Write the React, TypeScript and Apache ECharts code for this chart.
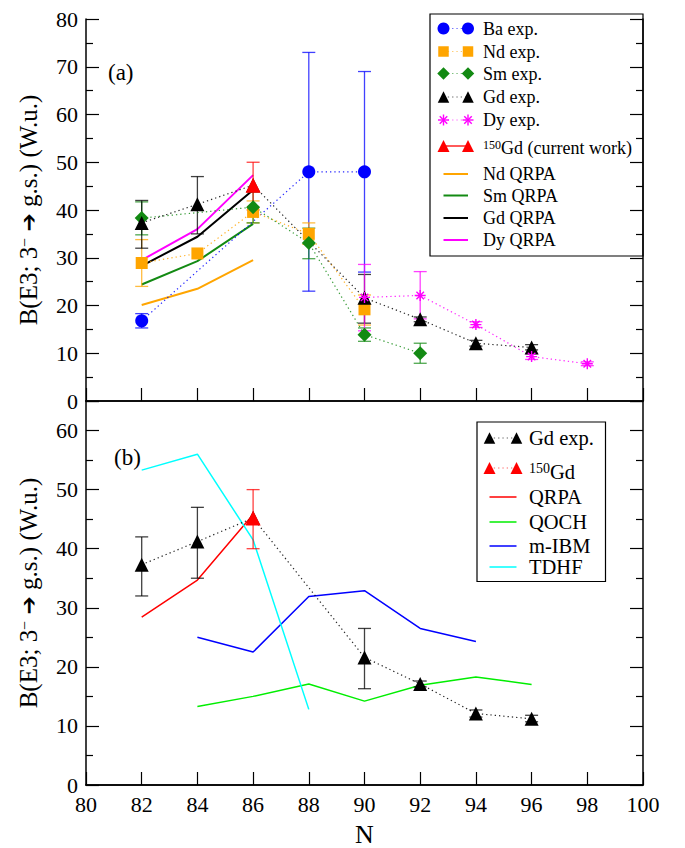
import React, { useEffect, useRef } from 'react';
import * as echarts from 'echarts';

const FONT = '"Liberation Serif", "Times New Roman", Times, serif';

// ---------- Panel (a) data ----------
const baExp = [[82, 16.8], [88, 48], [90, 48]];
const baErr = [[82, 15.3, 18.3], [88, 23, 73], [90, 27, 69]];
const ndExp = [[82, 28.9], [84, 30.9], [86, 39.6], [88, 35], [90, 19.2]];
const ndErr = [[82, 24, 33.8], [86, 37.3, 41.9], [88, 32.8, 37.3], [90, 15.9, 22.2]];
const smExp = [[82, 38.3], [86, 40.6], [88, 33.1], [90, 13.9], [92, 10]];
const smErr = [[82, 34.8, 41.7], [86, 37.3, 43.8], [88, 29.8, 36.2], [90, 12.5, 15.3], [92, 7.9, 12.1]];
const gdExp = [[82, 37.3], [84, 41.2], [86, 45.2], [90, 21.6], [92, 17.1], [94, 12.1], [96, 11.2]];
const gdErr = [[82, 32, 42], [84, 35, 47], [90, 16.3, 26.5], [92, 16.6, 17.6], [94, 11.5, 12.7], [96, 10.7, 11.8]];
const dyExp = [[90, 21.7], [92, 22.1], [94, 16], [96, 9.3], [98, 7.8]];
const dyErr = [[90, 14.7, 28.6], [92, 17.2, 27.1], [94, 15.4, 16.6], [96, 8.7, 9.9], [98, 7.4, 8.2]];
const gd150 = [[86, 45.2]];
const gd150Err = [[86, 40, 50]];
const ndQrpa = [[82, 20.1], [84, 23.5], [86, 29.5]];
const smQrpa = [[82, 24.4], [84, 29.3], [86, 37.1]];
const gdQrpa = [[82, 28.3], [84, 34.4], [86, 44.2]];
const dyQrpa = [[82, 29.5], [84, 36], [86, 47.3]];

// ---------- Panel (b) data ----------
const qrpaB = [[82, 28.4], [84, 34.7], [86, 45.8]];
const qoch = [[84, 13.3], [86, 15], [88, 17.1], [90, 14.2], [92, 16.9], [94, 18.3], [96, 17]];
const mIbm = [[84, 25], [86, 22.5], [88, 31.9], [90, 32.9], [92, 26.5], [94, 24.3]];
const tdhf = [[82, 53.3], [84, 56], [86, 41.5], [88, 12.8]];

const legendA = ['Ba exp.', 'Nd exp.', 'Sm exp.', 'Gd exp.', 'Dy exp.', '150Gd (current work)', 'Nd QRPA', 'Sm QRPA', 'Gd QRPA', 'Dy QRPA'];
const legendB = ['Gd exp.', '150Gd', 'QRPA', 'QOCH', 'm-IBM', 'TDHF'];

const BLUE = '#0000ff';
const ORANGE = '#ffa500';
const GREEN = '#138a13';
const BLACK = '#000000';
const MAGENTA = '#ff00ff';
const RED = '#ff0000';
const LIME = '#00ee00';
const CYAN = '#00ffff';

const STAR = 'path://M5,0L5,10M0,5L10,5M1.6,1.6L8.4,8.4M1.6,8.4L8.4,1.6';
const DOT: number[] = [1.3, 3];

function expSeries(name: string, data: number[][], color: string, symbol: string, size: number, ai: number, extra: any = {}) {
  return {
    type: 'line', name, data, xAxisIndex: ai * 2, yAxisIndex: ai * 2,
    symbol, symbolSize: size,
    lineStyle: { color, width: 1.2, type: DOT, opacity: 0.85 },
    itemStyle: { color },
    z: 5,
    ...extra,
  };
}

function lineSeries(name: string, data: number[][], color: string, width: number, ai: number) {
  return {
    type: 'line', name, data, xAxisIndex: ai * 2, yAxisIndex: ai * 2,
    symbol: 'none', lineStyle: { color, width }, z: 3,
  };
}

function errSeries(data: number[][], color: string, ai: number) {
  return {
    type: 'custom', data, xAxisIndex: ai * 2, yAxisIndex: ai * 2, z: 4,
    encode: { x: 0, y: [1, 2] },
    renderItem: (params: any, api: any) => {
      const x = api.value(0);
      const lo = api.coord([x, api.value(1)]);
      const hi = api.coord([x, api.value(2)]);
      const w = 6.5;
      const style = { stroke: color, lineWidth: 1.3, opacity: 0.75 };
      return {
        type: 'group',
        children: [
          { type: 'line', shape: { x1: lo[0], y1: lo[1], x2: hi[0], y2: hi[1] }, style },
          { type: 'line', shape: { x1: lo[0] - w, y1: lo[1], x2: lo[0] + w, y2: lo[1] }, style },
          { type: 'line', shape: { x1: hi[0] - w, y1: hi[1], x2: hi[0] + w, y2: hi[1] }, style },
        ],
      };
    },
  };
}

function marker(kind: string, cx: number, cy: number, s: number, color: string): any {
  const style = { fill: color };
  if (kind === 'circle') return { type: 'circle', shape: { cx, cy, r: s / 2 }, style };
  if (kind === 'rect') return { type: 'rect', shape: { x: cx - s / 2, y: cy - s / 2, width: s, height: s }, style };
  if (kind === 'diamond') return { type: 'polygon', shape: { points: [[cx, cy - s / 2], [cx + s / 2, cy], [cx, cy + s / 2], [cx - s / 2, cy]] }, style };
  if (kind === 'triangle') return { type: 'polygon', shape: { points: [[cx, cy - s / 2], [cx + s / 2, cy + s / 2], [cx - s / 2, cy + s / 2]] }, style };
  const h = s / 2, d = s * 0.34;
  const ls = { stroke: color, lineWidth: 1.4 };
  return {
    type: 'group', children: [
      { type: 'line', shape: { x1: cx, y1: cy - h, x2: cx, y2: cy + h }, style: ls },
      { type: 'line', shape: { x1: cx - h, y1: cy, x2: cx + h, y2: cy }, style: ls },
      { type: 'line', shape: { x1: cx - d, y1: cy - d, x2: cx + d, y2: cy + d }, style: ls },
      { type: 'line', shape: { x1: cx - d, y1: cy + d, x2: cx + d, y2: cy - d }, style: ls },
    ],
  };
}

function legendRow(x1: number, x2: number, y: number, ty: number, tx: number, text: string, fs: number,
  color: string, mk: string | null, ms: number, lineType: 'dot' | 'solid', lw: number): any[] {
  const out: any[] = [];
  out.push({
    type: 'line', shape: { x1, y1: y, x2, y2: y },
    style: { stroke: color, lineWidth: lw, lineDash: lineType === 'dot' ? DOT : null, opacity: lineType === 'dot' ? 0.6 : 1 },
  });
  if (mk) {
    out.push(marker(mk, x1, y, ms, color));
    out.push(marker(mk, x2, y, ms, color));
  }
  const rich = text.startsWith('150');
  out.push({
    type: 'text', x: tx, y: ty,
    style: {
      text: rich ? '{s|150}' + text.slice(3) : text,
      fontFamily: FONT, fontSize: fs, fill: '#000', align: 'left', verticalAlign: 'middle',
      rich: rich ? { s: { fontFamily: FONT, fontSize: Math.round(fs * 0.68), verticalAlign: 'top', fill: '#000' } } : undefined,
    },
  });
  return out;
}

const axisLine = { show: true, lineStyle: { color: '#000', width: 1.5 } };
const yName = 'B(E3; 3{s|−} {a|➔} g.s.) (W.u.)';
const yNameStyle = {
  fontFamily: FONT, fontSize: 25, color: '#000',
  rich: {
    s: { fontFamily: FONT, fontSize: 16, verticalAlign: 'top', color: '#000' },
    a: { fontFamily: 'DejaVu Sans', fontSize: 22, color: '#000' },
  },
};

export default function App() {
  const ref = useRef<HTMLDivElement>(null);
  useEffect(() => {
    if (!ref.current) return;
    const chart = echarts.init(ref.current, null, { renderer: 'svg' });

    const xBase = (gi: number, pos: string, labels: boolean, ticks: boolean, extra: any = {}) => ({
      type: 'value', gridIndex: gi, position: pos, min: 80, max: 100, interval: 2,
      axisLine, splitLine: { show: false },
      axisTick: { show: ticks, inside: true, length: 13, lineStyle: { color: '#000', width: 1.2 } },
      axisLabel: { show: labels, fontFamily: FONT, fontSize: 22, color: '#000', margin: 8 },
      ...extra,
    });
    const yBase = (gi: number, pos: string, max: number, labels: boolean, extra: any = {}) => ({
      type: 'value', gridIndex: gi, position: pos, min: 0, max, interval: 10,
      axisLine, splitLine: { show: false },
      axisTick: { show: true, inside: true, length: 13, lineStyle: { color: '#000', width: 1.2 } },
      minorTick: { show: true, splitNumber: 2, length: 7, lineStyle: { color: '#000', width: 1.2 } },
      axisLabel: { show: labels, fontFamily: FONT, fontSize: 22, color: '#000', margin: 8, showMaxLabel: max === 80 },
      ...extra,
    });

    // all graphic coordinates below are page coordinates; the group shifts them by the body margin
    const page: any[] = [];
    page.push({ type: 'text', x: 108, y: 72, style: { text: '(a)', fontFamily: FONT, fontSize: 23, fill: '#000', verticalAlign: 'middle' } });
    page.push({ type: 'text', x: 114, y: 457, style: { text: '(b)', fontFamily: FONT, fontSize: 23, fill: '#000', verticalAlign: 'middle' } });

    // legend (a)
    page.push({ type: 'rect', shape: { x: 430, y: 14, width: 213, height: 242 }, style: { fill: '#fff', stroke: '#000', lineWidth: 1.2 } });
    const aRows: [string, string | null, number, 'dot' | 'solid', number, number][] = [
      [BLUE, 'circle', 12, 'dot', 1.2, 28.5],
      [ORANGE, 'rect', 10.5, 'dot', 1.2, 51.5],
      [GREEN, 'diamond', 12.5, 'dot', 1.2, 73.5],
      [BLACK, 'triangle', 11.5, 'dot', 1.2, 97],
      [MAGENTA, 'star', 11, 'dot', 1.2, 120],
      [RED, 'triangle', 12, 'solid', 1.3, 146],
      [ORANGE, null, 0, 'solid', 2, 174],
      [GREEN, null, 0, 'solid', 2, 195.5],
      [BLACK, null, 0, 'solid', 2, 218],
      [MAGENTA, null, 0, 'solid', 2, 240],
    ];
    aRows.forEach((r, i) => {
      page.push(...legendRow(443.5, 468, r[5], i === 5 ? 148 : r[5], 483, legendA[i], 18, r[0], r[1], r[2], r[3], r[4]));
    });

    // legend (b)
    page.push({ type: 'rect', shape: { x: 477, y: 422, width: 128.5, height: 159.5 }, style: { fill: '#fff', stroke: '#000', lineWidth: 1.2 } });
    const bRows: [string, string | null, number, 'dot' | 'solid', number, number][] = [
      [BLACK, 'triangle', 11.5, 'dot', 1.2, 438],
      [RED, 'triangle', 12, 'dot', 1.2, 468],
      [RED, null, 0, 'solid', 1.5, 497],
      [LIME, null, 0, 'solid', 1.5, 522],
      [BLUE, null, 0, 'solid', 1.5, 546],
      [CYAN, null, 0, 'solid', 1.5, 567],
    ];
    bRows.forEach((r, i) => {
      page.push(...legendRow(489.5, 516.5, r[5], i === 1 ? 472 : r[5], 529, legendB[i], 20.5, r[0], r[1], r[2], r[3], r[4]));
    });

    const option: any = {
      animation: false,
      backgroundColor: '#fff',
      grid: [
        { left: 77, top: 6, width: 558, height: 387 },
        { left: 77, top: 393, width: 558, height: 386 },
      ],
      xAxis: [
        xBase(0, 'bottom', false, true),
        xBase(0, 'top', false, false),
        xBase(1, 'bottom', true, true, {
          name: 'N', nameLocation: 'middle', nameGap: 36,
          nameTextStyle: { fontFamily: FONT, fontSize: 26, color: '#000' },
        }),
        xBase(1, 'top', false, false),
      ],
      yAxis: [
        yBase(0, 'left', 80, true, { name: yName, nameLocation: 'middle', nameGap: 45, nameTextStyle: yNameStyle }),
        yBase(0, 'right', 80, false),
        yBase(1, 'left', 65, true, { name: yName, nameLocation: 'middle', nameGap: 45, nameTextStyle: yNameStyle }),
        yBase(1, 'right', 65, false),
      ],
      series: [
        lineSeries('Nd QRPA', ndQrpa, ORANGE, 2, 0),
        lineSeries('Sm QRPA', smQrpa, GREEN, 2, 0),
        lineSeries('Gd QRPA', gdQrpa, BLACK, 2, 0),
        lineSeries('Dy QRPA', dyQrpa, MAGENTA, 2, 0),
        errSeries(baErr, BLUE, 0),
        errSeries(ndErr, ORANGE, 0),
        errSeries(smErr, GREEN, 0),
        errSeries(gdErr, BLACK, 0),
        errSeries(dyErr, MAGENTA, 0),
        errSeries(gd150Err, RED, 0),
        expSeries('Ba exp.', baExp, BLUE, 'circle', 13, 0),
        expSeries('Nd exp.', ndExp, ORANGE, 'rect', 12, 0),
        expSeries('Sm exp.', smExp, GREEN, 'diamond', 14, 0),
        expSeries('Gd exp.', gdExp, BLACK, 'triangle', 14, 0),
        expSeries('Dy exp.', dyExp, MAGENTA, STAR, 11, 0, {
          itemStyle: { color: MAGENTA, borderColor: MAGENTA, borderWidth: 1.4 },
        }),
        expSeries('150Gd (current work)', gd150, RED, 'triangle', 15, 0, { z: 6 }),
        lineSeries('QRPA', qrpaB, RED, 1.5, 1),
        lineSeries('QOCH', qoch, LIME, 1.5, 1),
        lineSeries('m-IBM', mIbm, BLUE, 1.5, 1),
        lineSeries('TDHF', tdhf, CYAN, 1.5, 1),
        errSeries(gdErr, BLACK, 1),
        errSeries(gd150Err, RED, 1),
        expSeries('Gd exp. (b)', gdExp, BLACK, 'triangle', 14, 1),
        expSeries('150Gd (b)', gd150, RED, 'triangle', 15, 1, { z: 6 }),
      ],
      graphic: [{ type: 'group', x: -8, y: -8, z: 100, children: page }],
    };
    chart.setOption(option);
    return () => chart.dispose();
  }, []);
  return <div ref={ref} style={{ width: 669, height: 840 }} />;
}
